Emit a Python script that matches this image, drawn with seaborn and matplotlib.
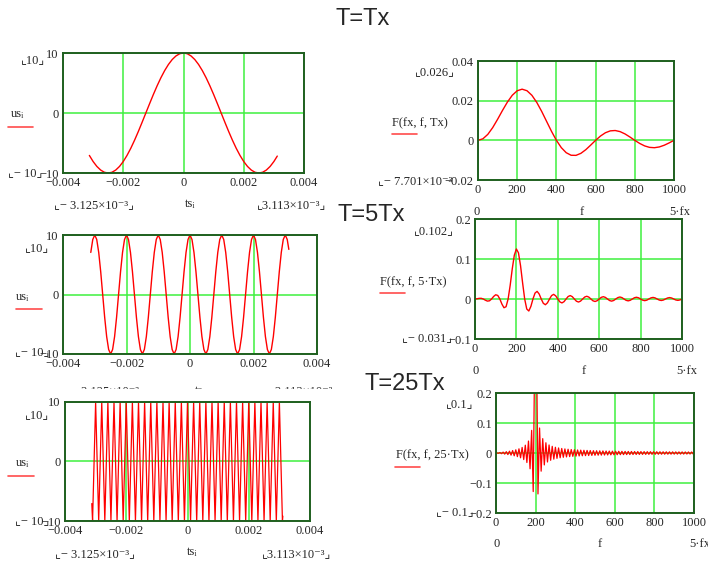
import numpy as np
import matplotlib
matplotlib.use("Agg")
import matplotlib.pyplot as plt
import seaborn as sns

# Time-domain signals us_i over ts_i (ts in milliseconds)
ts1_ms = [-3.125, -3.0, -2.875, -2.75, -2.625, -2.5, -2.375, -2.25, -2.125, -2.0,
          -1.875, -1.75, -1.625, -1.5, -1.375, -1.25, -1.125, -1.0, -0.875, -0.75,
          -0.625, -0.5, -0.375, -0.25, -0.125, 0.0, 0.125, 0.25, 0.375, 0.5,
          0.625, 0.75, 0.875, 1.0, 1.125, 1.25, 1.375, 1.5, 1.625, 1.75,
          1.875, 2.0, 2.125, 2.25, 2.375, 2.5, 2.625, 2.75, 2.875, 3.0,
          3.113]
us1 = [-7.07, -8.09, -8.91, -9.51, -9.88, -10, -9.88, -9.51, -8.91, -8.09,
       -7.07, -5.88, -4.54, -3.09, -1.56, 0, 1.56, 3.09, 4.54, 5.88,
       7.07, 8.09, 8.91, 9.51, 9.88, 10, 9.88, 9.51, 8.91, 8.09,
       7.07, 5.88, 4.54, 3.09, 1.56, 0, -1.56, -3.09, -4.54, -5.88,
       -7.07, -8.09, -8.91, -9.51, -9.88, -10, -9.88, -9.51, -8.91, -8.09,
       -7.18]

ts2_ms = [-3.125, -3.0625, -3.0, -2.9375, -2.875, -2.8125, -2.75, -2.6875, -2.625, -2.5625,
          -2.5, -2.4375, -2.375, -2.3125, -2.25, -2.1875, -2.125, -2.0625, -2.0, -1.9375,
          -1.875, -1.8125, -1.75, -1.6875, -1.625, -1.5625, -1.5, -1.4375, -1.375, -1.3125,
          -1.25, -1.1875, -1.125, -1.0625, -1.0, -0.9375, -0.875, -0.8125, -0.75, -0.6875,
          -0.625, -0.5625, -0.5, -0.4375, -0.375, -0.3125, -0.25, -0.1875, -0.125, -0.0625,
          0.0, 0.0625, 0.125, 0.1875, 0.25, 0.3125, 0.375, 0.4375, 0.5, 0.5625,
          0.625, 0.6875, 0.75, 0.8125, 0.875, 0.9375, 1.0, 1.0625, 1.125, 1.1875,
          1.25, 1.3125, 1.375, 1.4375, 1.5, 1.5625, 1.625, 1.6875, 1.75, 1.8125,
          1.875, 1.9375, 2.0, 2.0625, 2.125, 2.1875, 2.25, 2.3125, 2.375, 2.4375,
          2.5, 2.5625, 2.625, 2.6875, 2.75, 2.8125, 2.875, 2.9375, 3.0, 3.0625,
          3.113]
us2 = [7.07, 9.24, 10, 9.24, 7.07, 3.83, 0, -3.83, -7.07, -9.24, -10, -9.24, -7.07, -3.83, 0, 3.83,
       7.07, 9.24, 10, 9.24, 7.07, 3.83, 0, -3.83, -7.07, -9.24, -10, -9.24, -7.07, -3.83, 0, 3.83,
       7.07, 9.24, 10, 9.24, 7.07, 3.83, 0, -3.83, -7.07, -9.24, -10, -9.24, -7.07, -3.83, 0, 3.83,
       7.07, 9.24, 10, 9.24, 7.07, 3.83, 0, -3.83, -7.07, -9.24, -10, -9.24, -7.07, -3.83, 0, 3.83,
       7.07, 9.24, 10, 9.24, 7.07, 3.83, 0, -3.83, -7.07, -9.24, -10, -9.24, -7.07, -3.83, 0, 3.83,
       7.07, 9.24, 10, 9.24, 7.07, 3.83, 0, -3.83, -7.07, -9.24, -10, -9.24, -7.07, -3.83, 0, 3.83,
       7.07, 9.24, 10, 9.24, 7.58]

ts3_ms = [-3.125,
          -3.1, -3.0, -2.9, -2.8, -2.7, -2.6, -2.5, -2.4, -2.3, -2.2,
          -2.1, -2.0, -1.9, -1.8, -1.7, -1.6, -1.5, -1.4, -1.3, -1.2,
          -1.1, -1.0, -0.9, -0.8, -0.7, -0.6, -0.5, -0.4, -0.3, -0.2,
          -0.1, 0.0, 0.1, 0.2, 0.3, 0.4, 0.5, 0.6, 0.7, 0.8,
          0.9, 1.0, 1.1, 1.2, 1.3, 1.4, 1.5, 1.6, 1.7, 1.8,
          1.9, 2.0, 2.1, 2.2, 2.3, 2.4, 2.5, 2.6, 2.7, 2.8,
          2.9, 3.0, 3.1,
          3.113]
us3 = [-7.07,
       -10, 10, -10, 10, -10, 10, -10, 10, -10, 10,
       -10, 10, -10, 10, -10, 10, -10, 10, -10, 10,
       -10, 10, -10, 10, -10, 10, -10, 10, -10, 10,
       -10, 10, -10, 10, -10, 10, -10, 10, -10, 10,
       -10, 10, -10, 10, -10, 10, -10, 10, -10, 10,
       -10, 10, -10, 10, -10, 10, -10, 10, -10, 10,
       -10, 10, -10,
       -9.18]

# Spectra F(fx, f, T)
f1 = [0, 25, 50, 75, 100, 125, 150, 175, 200, 225,
      250, 275, 300, 325, 350, 375, 400, 425, 450, 475,
      500, 525, 550, 575, 600, 625, 650, 675, 700, 725,
      750, 775, 800, 825, 850, 875, 900, 925, 950, 975,
      1000]
F1 = [0, .000774, .003001, .006416, .010610, .015081, .019292, .022739, .025000, .025796,
      .025008, .022701, .019098, .014564, .009549, .004540, 0, -.003682, -.006233, -.007525,
      -.007579, -.006552, -.004716, -.002410, 0, .002171, .003825, .004776, .004951, .004390,
      .003231, .001684, 0, -.001569, -.002803, -.003546, -.003720, -.003335, -.002479, -.001304,
      0]

f2 = [0, 10, 20, 30, 40, 50, 60, 70, 80, 90,
      100, 110, 120, 130, 140, 150, 160, 170, 180, 190,
      200, 210, 220, 230, 240, 250, 260, 270, 280, 290,
      300, 310, 320, 330, 340, 350, 360, 370, 380, 390,
      400, 410, 420, 430, 440, 450, 460, 470, 480, 490,
      500, 510, 520, 530, 540, 550, 560, 570, 580, 590,
      600, 610, 620, 630, 640, 650, 660, 670, 680, 690,
      700, 710, 720, 730, 740, 750, 760, 770, 780, 790,
      800, 810, 820, 830, 840, 850, 860, 870, 880, 890,
      900, 910, 920, 930, 940, 950, 960, 970, 980, 990,
      1000]
F2 = [0, .000564, .001608, .001727, 0, -.003001, -.005247, -.004489, 0, .006350,
      .010610, .008874, 0, -.012667, -.021845, -.019292, 0, .034471, .075389, .109652,
      .125, .115284, .083366, .040130, 0, -.025009, -.029986, -.018471, 0, .014801,
      .019098, .012437, 0, -.010780, -.014315, -.009549, 0, .008594, .011586, .007831,
      0, -.007204, -.009801, -.006679, 0, .006233, .008533, .005848, 0, -.005512,
      -.007579, -.005215, 0, .004952, .006832, .004716, 0, -.004503, -.006229, -.004310,
      0, .004134, .005730, .003973, 0, -.003825, -.005311, -.003688, 0, .003561,
      .004951, .003443, 0, -.003333, -.004640, -.003231, 0, .003135, .004368, .003044,
      0, -.002959, -.004127, -.002879, 0, .002803, .003913, .002731, 0, -.002663,
      -.003720, -.002599, 0, .002538, .003547, .002479, 0, -.002423, -.003389, -.002370,
      0]

f3 = [0,
      4, 12, 20, 28, 36, 44, 52, 60, 68, 76,
      84, 92, 100, 108, 116, 124, 132, 140, 148, 156,
      164, 172, 180, 188, 196,
      200,
      204, 212, 220, 228, 236, 244, 252, 260, 268, 276,
      284, 292, 300, 308, 316, 324, 332, 340, 348, 356,
      364, 372, 380, 388, 396, 404, 412, 420, 428, 436,
      444, 452, 460, 468, 476, 484, 492, 500, 508, 516,
      524, 532, 540, 548, 556, 564, 572, 580, 588, 596,
      604, 612, 620, 628, 636, 644, 652, 660, 668, 676,
      684, 692, 700, 708, 716, 724, 732, 740, 748, 756,
      764, 772, 780, 788, 796, 804, 812, 820, 828, 836,
      844, 852, 860, 868, 876, 884, 892, 900, 908, 916,
      924, 932, 940, 948, 956, 964, 972, 980, 988, 996,
      1000]
F3 = [0,
      .000318, -.000958, .001608, -.002273, .002961, -.003680, .004438, -.005247, .006119, -.007069,
      .008116, -.009286, .010610, -.012132, .013911, -.016029, .018611, -.021845, .026033, -.031701,
      .039838, -.052563, .075390, -.128528, .393871,
      .625,
      .401830, -.136494, .083367, -.060560, .047860, -.039757, .034128, -.029986, .026806, -.024285,
      .022236, -.020535, .019099, -.017870, .016805, -.015872, .015049, -.014316, .013658, -.013065,
      .012527, -.012036, .011586, -.011173, .010791, -.010437, .010108, -.009801, .009515, -.009246,
      .008994, -.008757, .008533, -.008321, .008121, -.007931, .007751, -.007579, .007415, -.007259,
      .007111, -.006968, .006832, -.006701, .006576, -.006456, .006340, -.006229, .006122, -.006019,
      .005919, -.005823, .005730, -.005641, .005554, -.005470, .005389, -.005311, .005234, -.005161,
      .005089, -.005019, .004952, -.004886, .004822, -.004760, .004699, -.004641, .004583, -.004527,
      .004473, -.004420, .004368, -.004318, .004268, -.004220, .004173, -.004127, .004083, -.004039,
      .003996, -.003954, .003913, -.003873, .003833, -.003795, .003757, -.003721, .003684, -.003649,
      .003614, -.003580, .003547, -.003514, .003482, -.003451, .003420, -.003389, .003359, -.003330,
      0]

# Tick values and labels
t_ticks = [-0.004, -0.002, 0, 0.002, 0.004]
t_labels = ['\u22120.004', '\u22120.002', '0', '0.002', '0.004']
u_ticks = [-10, 0, 10]
u_labels = ['\u221210', '0', '10']
f_ticks = [0, 200, 400, 600, 800, 1000]
f_labels = ['0', '200', '400', '600', '800', '1000']
F1_ticks = [-0.02, 0, 0.02, 0.04]
F1_labels = ['\u22120.02', '0', '0.02', '0.04']
F2_ticks = [-0.1, 0, 0.1, 0.2]
F2_labels = ['\u22120.1', '0', '0.1', '0.2']
F3_ticks = [-0.2, -0.1, 0, 0.1, 0.2]
F3_labels = ['\u22120.2', '\u22120.1', '0', '0.1', '0.2']

sns.set_style("white")
plt.rcParams['font.family'] = ['Liberation Serif', 'DejaVu Sans']

W, H = 708, 565
RED = '#ff0000'
GRID = '#3ff03f'
FRAME = '#1f5f1f'
SERIF = ['Liberation Serif', 'DejaVu Sans']

fig = plt.figure(figsize=(W / 100, H / 100), dpi=100)


def box(x0, y0, x1, y1):
    # pixel box (top-left origin) -> figure fraction rect
    return [x0 / W, 1 - y1 / H, (x1 - x0) / W, (y1 - y0) / H]


def put(x, y, s, size=9, ha='center', family=SERIF, **kw):
    return fig.text(x / W, 1 - y / H, s, ha=ha, va='center', fontsize=size, family=family, **kw)


def legend_line(x0, x1, y):
    fig.add_artist(plt.Line2D([x0 / W, x1 / W], [1 - y / H, 1 - y / H], color=RED, lw=1.2, alpha=0.7))


def panel(rect, x, y, xticks, xlabels, yticks, ylabels, lw=1.0):
    ax = fig.add_axes(rect)
    sns.lineplot(x=x, y=y, ax=ax, color=RED, lw=lw, estimator=None, sort=False)
    ax.set_xlim(xticks[0], xticks[-1])
    ax.set_ylim(yticks[0], yticks[-1])
    ax.set_xticks(xticks)
    ax.set_xticklabels(xlabels)
    ax.set_yticks(yticks)
    ax.set_yticklabels(ylabels)
    ax.grid(True, color=GRID, lw=1.1)
    ax.set_axisbelow(True)
    ax.tick_params(length=0, pad=3, labelsize=9)
    for sp in ax.spines.values():
        sp.set_color(FRAME)
        sp.set_linewidth(1.4)
    ax.set_xlabel('')
    ax.set_ylabel('')
    return ax


# Left column: time signals
panel(box(63, 53, 304, 173), np.array(ts1_ms) * 1e-3, us1, t_ticks, t_labels, u_ticks, u_labels)
panel(box(63, 235, 317, 354), np.array(ts2_ms) * 1e-3, us2, t_ticks, t_labels, u_ticks, u_labels)
panel(box(65, 402, 310, 521), np.array(ts3_ms) * 1e-3, us3, t_ticks, t_labels, u_ticks, u_labels, lw=0.9)

# Right column: spectra
panel(box(478, 61, 674, 180), f1, F1, f_ticks, f_labels, F1_ticks, F1_labels)
panel(box(475, 219, 682, 339), f2, F2, f_ticks, f_labels, F2_ticks, F2_labels)
panel(box(496, 393, 694, 513), f3, F3, f_ticks, f_labels, F3_ticks, F3_labels, lw=0.9)

# Titles
put(363, 19, 'T=Tx', size=17, family='Liberation Sans')
put(371, 215, 'T=5Tx', size=17, family='Liberation Sans')
put(405, 384, 'T=25Tx', size=17, family='Liberation Sans')

# Mathcad-style axis annotations, top-left panel
put(33, 60, '\u231e10\u231f')
put(17, 114, 'us\u1d62')
legend_line(8, 33, 127)
put(25, 173, '\u231e\u2212 10\u231f')
put(94, 205, '\u231e\u2212 3.125\u00d710\u207b\u00b3\u231f')
put(190, 204, 'ts\u1d62')
put(292, 205, '\u231e3.113\u00d710\u207b\u00b3\u231f')

# top-right panel
put(435, 72, '\u231e0.026\u231f')
put(420, 123, 'F(fx, f, Tx)')
legend_line(392, 417, 134)
put(415, 181, '\u231e\u2212 7.701\u00d710\u207b\u00b3')
put(477, 212, '0')
put(582, 212, 'f')
put(680, 212, '5\u00b7fx')

# middle-left panel
put(37, 248, '\u231e10\u231f')
put(22, 297, 'us\u1d62')
legend_line(16, 42, 309)
put(32, 352, '\u231e\u2212 10\u231f')
put(105, 391, '\u231e\u2212 3.125\u00d710\u207b\u00b3\u231f')
put(200, 391, 'ts\u1d62')
put(305, 391, '\u231e3.113\u00d710\u207b\u00b3\u231f')
# the lower region hides the bottom half of those labels
fig.add_artist(plt.Rectangle((0, 1 - 396 / H), 345 / W, 7 / H, color='white', zorder=3.5))

# middle-right panel
put(434, 231, '\u231e0.102\u231f')
put(413, 282, 'F(fx, f, 5\u00b7Tx)')
legend_line(380, 405, 293)
put(427, 338, '\u231e\u2212 0.031\u231f')
put(476, 371, '0')
put(584, 371, 'f')
put(687, 371, '5\u00b7fx')

# bottom-left panel
put(37, 415, '\u231e10\u231f')
put(22, 463, 'us\u1d62')
legend_line(8, 34, 476)
put(32, 521, '\u231e\u2212 10\u231f')
put(95, 554, '\u231e\u2212 3.125\u00d710\u207b\u00b3\u231f')
put(192, 552, 'ts\u1d62')
put(297, 554, '\u231e3.113\u00d710\u207b\u00b3\u231f')

# bottom-right panel
put(460, 404, '\u231e0.1\u231f')
put(432, 455, 'F(fx, f, 25\u00b7Tx)')
legend_line(395, 420, 467)
put(455, 512, '\u231e\u2212 0.1\u231f')
put(497, 544, '0')
put(600, 544, 'f')
put(700, 544, '5\u00b7fx')

fig.savefig('out.png', dpi=100)
